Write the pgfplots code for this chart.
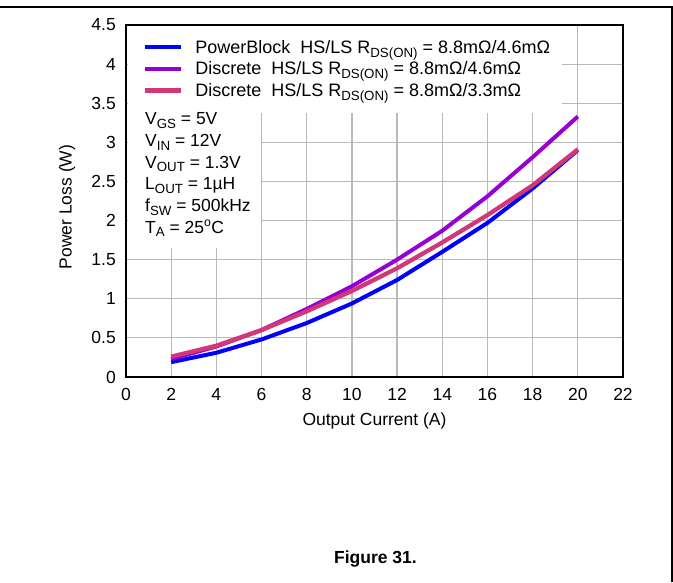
\documentclass[border=0pt]{standalone}
\usepackage{fontspec}
\setmainfont{Liberation Sans}
\usepackage{pgfplots}
\pgfplotsset{compat=1.18}
\definecolor{cblue}{RGB}{0,0,255}
\definecolor{cpurple}{RGB}{150,0,210}
\definecolor{cpink}{RGB}{210,55,120}
\newcommand\sub[1]{\raisebox{-0.22em}{\fontsize{13.3}{13}\selectfont #1}}
\newcommand\fs{\fontsize{17.5}{21}\selectfont}
\newcommand\fl{\fontsize{18}{21}\selectfont}
\begin{document}
\begin{tikzpicture}
\useasboundingbox (-126pt,-205pt) rectangle (547pt,377pt);
\begin{axis}[
  at={(0pt,0pt)}, anchor=south west,
  scale only axis, width=497pt, height=352pt,
  xmin=0, xmax=22, ymin=0, ymax=4.5,
  xtick={0,2,4,6,8,10,12,14,16,18,20,22},
  ytick={0,0.5,1,1.5,2,2.5,3,3.5,4,4.5},
  grid=major, major grid style={line width=1.2pt, color=gray!55},
  major tick length=0pt,
  axis line style={line width=2.4pt},
  /pgf/number format/assume math mode=true,
  tick label style={font=\fs},
  xticklabel style={inner sep=0pt, anchor=north, yshift=-11pt},
  yticklabel style={inner sep=0pt, anchor=east, xshift=-10pt},
  xlabel={Output Current (A)}, ylabel={Power Loss (W)},
  every axis x label/.style={at={(axis description cs:0.5,-0.137)}, anchor=base, font=\fs},
  every axis y label/.style={at={(axis description cs:-0.1187,0.483)}, rotate=90, anchor=center, font=\fs},
  legend style={at={(0.0342,0.9611)}, anchor=north west, draw=none, fill=none, inner sep=0pt, outer sep=0pt, row sep=5.1pt, column sep=12pt, nodes={inner sep=0pt, text height=14.6pt, text depth=2pt, font=\fl}},
  legend cell align=left,
  legend image code/.code={\draw[#1] (0pt,0pt) -- (36pt,0pt);},
]
\fill[white] (rel axis cs:0.004,0.75) rectangle (rel axis cs:0.877,0.9963);
\fill[white] (rel axis cs:0.004,0.3665) rectangle (rel axis cs:0.2716,0.7505);
\addplot[cblue, line width=4pt, line join=round] coordinates {(2,0.19) (4,0.31) (6,0.48) (8,0.69) (10,0.94) (12,1.24) (14,1.60) (16,1.97) (18,2.41) (20,2.90)};
\addlegendentry{PowerBlock\ \ HS/LS R\sub{DS(ON)} = 8.8mΩ/4.6mΩ}
\addplot[cpurple, line width=4pt, line join=round] coordinates {(2,0.23) (4,0.39) (6,0.60) (8,0.87) (10,1.16) (12,1.50) (14,1.87) (16,2.31) (18,2.81) (20,3.33)};
\addlegendentry{Discrete\ \ HS/LS R\sub{DS(ON)} = 8.8mΩ/4.6mΩ}
\addplot[cpink, line width=4.3pt, line join=round] coordinates {(2,0.26) (4,0.40) (6,0.60) (8,0.84) (10,1.10) (12,1.39) (14,1.72) (16,2.07) (18,2.45) (20,2.91)};
\addlegendentry{Discrete\ \ HS/LS R\sub{DS(ON)} = 8.8mΩ/3.3mΩ}
\end{axis}
\node[anchor=base west, inner sep=0pt, font=\fs] at (19pt,252.4pt) {V\sub{GS} = 5V};
\node[anchor=base west, inner sep=0pt, font=\fs] at (19pt,230.7pt) {V\sub{IN} = 12V};
\node[anchor=base west, inner sep=0pt, font=\fs] at (19pt,209pt) {V\sub{OUT} = 1.3V};
\node[anchor=base west, inner sep=0pt, font=\fs] at (19pt,187.3pt) {L\sub{OUT} = 1µH};
\node[anchor=base west, inner sep=0pt, font=\fs] at (19pt,165.6pt) {f\sub{SW} = 500kHz};
\node[anchor=base west, inner sep=0pt, font=\fs] at (19pt,144pt) {T\sub{A} = 25\textsuperscript{o}C};
\node[anchor=base, inner sep=0pt, font=\bfseries\fs] at (249.5pt,-186.3pt) {Figure 31.};
\draw[line width=2pt] (-126pt,369.5pt) -- (546pt,369.5pt) -- (546pt,-205pt);
\end{tikzpicture}
\end{document}
